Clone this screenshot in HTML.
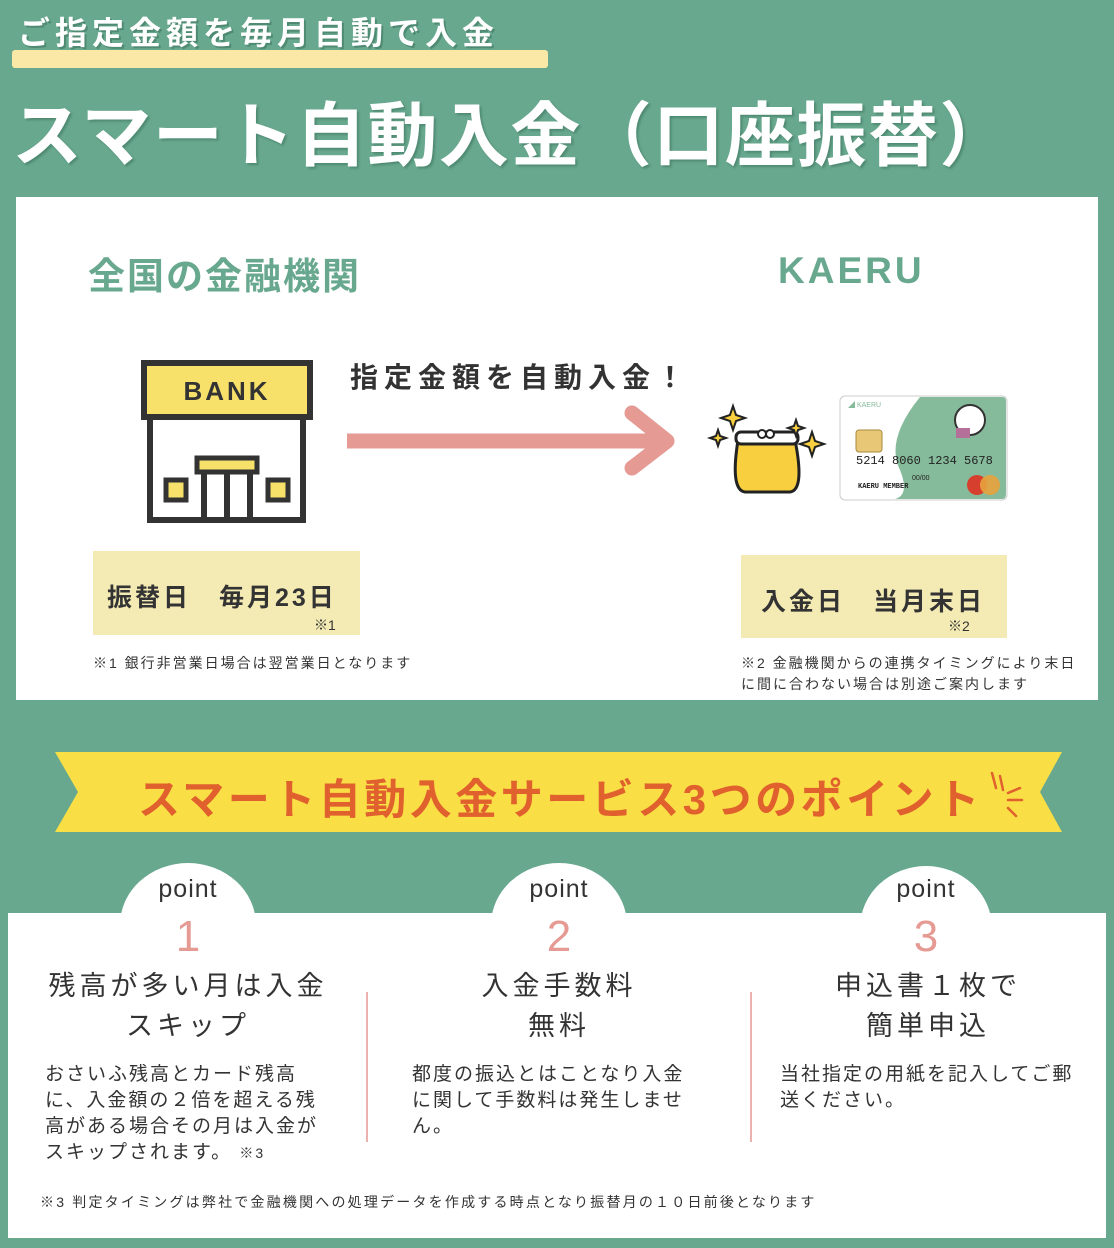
<!DOCTYPE html>
<html><head><meta charset="utf-8"><style>
body{margin:0;width:1114px;height:1248px;background:#68a88e;position:relative;overflow:hidden;font-family:"Liberation Sans","Noto Sans CJK JP",sans-serif;}
.a{position:absolute;white-space:nowrap;}
</style></head><body>
<div class="a" style="left:12px;top:50px;width:536px;height:18px;background:#fbe8a6;border-radius:3px"></div>
<div class="a" style="left:18px;top:8px;font-size:32px;font-weight:bold;color:#fff;letter-spacing:5px;text-shadow:2px 2px 0 #4f8a72">ご指定金額を毎月自動で入金</div>
<div class="a" style="left:12px;top:80px;font-size:70px;font-weight:bold;color:#fff;letter-spacing:1.5px;text-shadow:2px 2px 2px #4f8a72">スマート自動入金（口座振替）</div>

<div class="a" style="left:16px;top:197px;width:1082px;height:503px;background:#fff"></div>
<div class="a" style="left:88px;top:246px;font-size:37px;font-weight:bold;color:#68a88e;letter-spacing:2px">全国の金融機関</div>
<div class="a" style="left:778px;top:250px;font-size:37px;font-weight:bold;color:#68a88e;letter-spacing:3px">KAERU</div>
<div class="a" style="left:350px;top:356px;font-size:28px;font-weight:bold;color:#333;letter-spacing:6px">指定金額を自動入金！</div>
<svg class="a" style="left:0;top:0" width="1114" height="700">
<rect x="150" y="410" width="153" height="110" fill="#fff" stroke="#333" stroke-width="6"/>
<rect x="144" y="363" width="166" height="54" fill="#f7e16a" stroke="#333" stroke-width="6"/>
<text x="227" y="400" font-size="26" font-weight="bold" text-anchor="middle" fill="#333" font-family="Liberation Sans" letter-spacing="3">BANK</text>
<rect x="204" y="470" width="46" height="50" fill="#fff" stroke="#333" stroke-width="6"/>
<line x1="227" y1="470" x2="227" y2="520" stroke="#333" stroke-width="6"/>
<rect x="197" y="458" width="60" height="14" fill="#f7e16a" stroke="#333" stroke-width="5"/>
<rect x="166" y="480" width="20" height="20" fill="#f7e16a" stroke="#333" stroke-width="5"/>
<rect x="268" y="480" width="20" height="20" fill="#f7e16a" stroke="#333" stroke-width="5"/>
<line x1="347" y1="441" x2="665" y2="441" stroke="#e59a93" stroke-width="15"/>
<polyline points="632,413 667,441 632,468" fill="none" stroke="#e59a93" stroke-width="15" stroke-linecap="round" stroke-linejoin="round"/>
<path d="M738 440 Q730 490 745 492 L790 492 Q805 490 795 440 Z" fill="#f7cf3f" stroke="#222" stroke-width="3"/>
<rect x="736" y="432" width="62" height="12" rx="5" fill="#fff" stroke="#222" stroke-width="3"/>
<circle cx="762" cy="434" r="4" fill="#fff" stroke="#222" stroke-width="2"/><circle cx="770" cy="434" r="4" fill="#fff" stroke="#222" stroke-width="2"/>
<g fill="#f7cf3f" stroke="#222" stroke-width="2">
<path d="M733 406 l3 9 9 3 -9 3 -3 9 -3 -9 -9 -3 9 -3z"/>
<path d="M718 430 l2 6 6 2 -6 2 -2 6 -2 -6 -6 -2 6 -2z"/>
<path d="M796 420 l2 6 6 2 -6 2 -2 6 -2 -6 -6 -2 6 -2z"/>
<path d="M812 432 l3 9 9 3 -9 3 -3 9 -3 -9 -9 -3 9 -3z"/>
</g>
<rect x="840" y="396" width="167" height="104" rx="5" fill="#fff" stroke="#ccc"/>
<path d="M920 397 Q885 440 900 470 Q910 495 895 499 L1002 499 Q1006 499 1006 494 L1006 401 Q1006 397 1002 397Z" fill="#85bb9a"/>
<rect x="856" y="430" width="26" height="22" rx="3" fill="#e8c776" stroke="#a98a3e"/>
<text x="848" y="407" font-size="7" fill="#85bb9a">◢ KAERU</text>
<text x="856" y="464" font-size="12" font-family="Liberation Mono" fill="#222">5214 8060 1234 5678</text>
<text x="912" y="480" font-size="7" fill="#222">00/00</text>
<text x="858" y="488" font-size="7" font-family="Liberation Mono" font-weight="bold" fill="#222">KAERU MEMBER</text>
<circle cx="977" cy="485" r="10" fill="#d63f2e"/><circle cx="990" cy="485" r="10" fill="#e8a33d" opacity="0.9"/>
<circle cx="970" cy="420" r="15" fill="#fff" stroke="#333" stroke-width="2"/>
<rect x="956" y="428" width="14" height="10" fill="#b5709a"/>
</svg>
<div class="a" style="left:93px;top:551px;width:267px;height:84px;background:#f4ebb4"></div>
<div class="a" style="left:107px;top:578px;font-size:25px;font-weight:bold;color:#333;letter-spacing:3px">振替日　毎月23日</div>
<div class="a" style="left:314px;top:615px;font-size:14px;color:#333">※1</div>
<div class="a" style="left:93px;top:653px;font-size:14px;color:#333;letter-spacing:2px">※1 銀行非営業日場合は翌営業日となります</div>
<div class="a" style="left:741px;top:555px;width:266px;height:83px;background:#f4ebb4"></div>
<div class="a" style="left:761px;top:582px;font-size:25px;font-weight:bold;color:#333;letter-spacing:3px">入金日　当月末日</div>
<div class="a" style="left:948px;top:616px;font-size:14px;color:#333">※2</div>
<div class="a" style="left:741px;top:653px;font-size:14px;color:#333;line-height:21px;letter-spacing:2px">※2 金融機関からの連携タイミングにより末日<br>に間に合わない場合は別途ご案内します</div>

<svg class="a" style="left:0;top:0" width="1114" height="1248">
<polygon points="55,752 1062,752 1040,792 1062,832 55,832 78,792" fill="#f9df45"/>
<g stroke="#e0602e" stroke-width="2.5" stroke-linecap="round"><line x1="992" y1="773" x2="996" y2="788"/><line x1="1000" y1="776" x2="1003" y2="790"/><line x1="1008" y1="793" x2="1020" y2="788"/><line x1="1008" y1="800" x2="1022" y2="800"/><line x1="1008" y1="808" x2="1016" y2="816"/></g>
<rect x="8" y="913" width="1098" height="325" fill="#fff"/>
<ellipse cx="188" cy="925" rx="68" ry="62" fill="#fff"/>
<ellipse cx="559" cy="925" rx="68" ry="62" fill="#fff"/>
<ellipse cx="926" cy="928" rx="66" ry="62" fill="#fff"/>
<line x1="367" y1="992" x2="367" y2="1142" stroke="#e59a93" stroke-width="1.5"/>
<line x1="751" y1="992" x2="751" y2="1142" stroke="#e59a93" stroke-width="1.5"/>
</svg>
<div class="a" style="left:138px;top:766px;font-size:42px;font-weight:bold;color:#e0602e;letter-spacing:3.5px">スマート自動入金サービス3つのポイント</div>

<div class="a" style="left:138px;top:875px;width:100px;text-align:center;font-size:25px;color:#333;letter-spacing:1px">point</div>
<div class="a" style="left:509px;top:875px;width:100px;text-align:center;font-size:25px;color:#333;letter-spacing:1px">point</div>
<div class="a" style="left:876px;top:875px;width:100px;text-align:center;font-size:25px;color:#333;letter-spacing:1px">point</div>
<div class="a" style="left:138px;top:912px;width:100px;text-align:center;font-size:44px;color:#e59a93">1</div>
<div class="a" style="left:509px;top:912px;width:100px;text-align:center;font-size:44px;color:#e59a93">2</div>
<div class="a" style="left:876px;top:912px;width:100px;text-align:center;font-size:44px;color:#e59a93">3</div>
<div class="a" style="left:20px;top:966px;width:336px;text-align:center;font-size:27px;color:#333;letter-spacing:4px;line-height:40px">残高が多い月は入金<br>スキップ</div>
<div class="a" style="left:391px;top:966px;width:336px;text-align:center;font-size:27px;color:#333;letter-spacing:4px;line-height:40px">入金手数料<br>無料</div>
<div class="a" style="left:760px;top:966px;width:336px;text-align:center;font-size:27px;color:#333;letter-spacing:4px;line-height:40px">申込書１枚で<br>簡単申込</div>
<div class="a" style="left:45px;top:1062px;font-size:19px;color:#333;letter-spacing:2px;line-height:26px">おさいふ残高とカード残高<br>に、入金額の２倍を超える残<br>高がある場合その月は入金が<br>スキップされます。 <span style="font-size:14px">※3</span></div>
<div class="a" style="left:412px;top:1062px;font-size:19px;color:#333;letter-spacing:2px;line-height:26px">都度の振込とはことなり入金<br>に関して手数料は発生しませ<br>ん。</div>
<div class="a" style="left:780px;top:1062px;font-size:19px;color:#333;letter-spacing:2px;line-height:26px">当社指定の用紙を記入してご郵<br>送ください。</div>
<div class="a" style="left:40px;top:1192px;font-size:14px;color:#333;letter-spacing:2.2px">※3 判定タイミングは弊社で金融機関への処理データを作成する時点となり振替月の１０日前後となります</div>
</body></html>
